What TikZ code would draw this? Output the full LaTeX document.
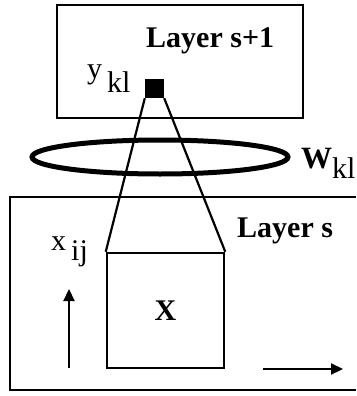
\documentclass[tikz,border=0pt]{standalone}
\usepackage{fontspec}
\setmainfont{Liberation Serif}
\usetikzlibrary{arrows.meta}
\tikzset{
  layerbox/.style={line width=2.5pt},
  bigtext/.style={font=\fontsize{30}{32}\selectfont\bfseries, inner sep=0pt},
  smalltext/.style={font=\fontsize{30}{32}\selectfont, inner sep=0pt}
}
\begin{document}
\begin{tikzpicture}[x=1pt, y=-1pt, >={Triangle[length=12pt,width=11pt]}]
  \useasboundingbox (0,0) rectangle (356,396);
  % layer s+1
  \draw[layerbox] (57,5) rectangle (303,118);
  \node[bigtext, anchor=base west] (toplabel) at (146,48) {Layer s+1};
  \node[fill=black, minimum size=19pt, inner sep=0pt] (unit) at (154.5,88.5) {};
  \node[smalltext, anchor=base west] (ykl) at (87,78) {y\,\raisebox{-14pt}{kl}};
  % layer s
  \draw[layerbox] (356,197) -- (10,197) -- (10,390) -- (356,390);
  \node[bigtext, anchor=base west] (botlabel) at (237,237) {Layer s};
  \node[draw, line width=2.5pt, minimum width=117pt, minimum height=115pt,
        bigtext] (patch) at (165.5,310.5) {X};
  \node[smalltext, anchor=base west] (xij) at (51,250) {x\,\raisebox{-10pt}{ij}};
  % receptive field
  \draw[line width=2.2pt] (unit.south west) -- (patch.north west);
  \draw[line width=2.2pt] (unit.south east) -- (patch.north east);
  % weights
  \draw[line width=5pt] (160,157) ellipse [x radius=128pt, y radius=17pt];
  \node[anchor=base west, inner sep=0pt] (wkl) at (301,168)
    {\fontsize{31}{32}\selectfont\bfseries W\mdseries\fontsize{30}{32}\selectfont\raisebox{-10pt}{kl}};
  % axes
  \coordinate (ua) at (69,368);
  \coordinate (ub) at (69,289);
  \coordinate (ra) at (263,369);
  \coordinate (rb) at (343,369);
  \draw[->, line width=2.2pt] (ua) -- (ub);
  \draw[->, line width=2.2pt] (ra) -- (rb);
\end{tikzpicture}
\end{document}
